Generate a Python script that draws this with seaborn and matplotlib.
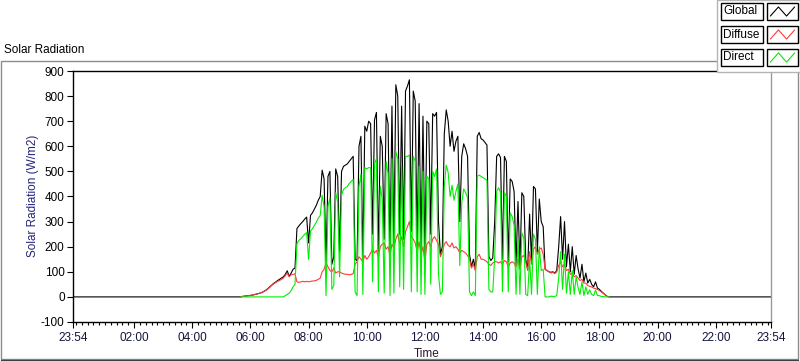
import numpy as np
import pandas as pd
import matplotlib
matplotlib.use("Agg")
import matplotlib.pyplot as plt
import seaborn as sns
from matplotlib.patches import Rectangle
from matplotlib.lines import Line2D
from matplotlib.ticker import FixedLocator, MultipleLocator

# ---------------- data (minutes after midnight, 4-min samples 05:40 .. 18:20) ----
times = np.arange(340, 1101, 4)

global_rad = [
    0, 2, 3, 4, 5,
    6, 7, 9, 11, 13, 15, 18, 22, 27, 33, 40, 47, 54, 59, 65,
    70, 75, 80, 90, 104, 82, 95, 110, 115, 272, 283, 292, 300, 310, 318,
    215, 325, 335, 350, 365, 385, 400, 505, 470, 140, 480, 500, 130, 160, 510,
    480, 180, 500, 520, 525, 530, 540, 550, 560, 150, 145, 600, 640, 150, 680,
    660, 700, 690, 250, 705, 735, 180, 640, 600, 230, 730, 690, 170, 760, 210,
    845, 800, 250, 760, 230, 820, 840, 865, 260, 820, 780, 200, 770, 180, 720,
    150, 700, 690, 250, 730, 720, 735, 300, 170, 200, 650, 745, 700, 600, 660,
    580, 620, 640, 300, 560, 610, 590, 560, 170, 120, 150, 110, 640, 655, 630,
    625, 615, 605, 160, 145, 155, 300, 560, 570, 555, 150, 560, 540, 140, 470,
    460, 420, 130, 380, 120, 415, 400, 150, 110, 330, 140, 440, 430, 180, 390,
    300, 280, 110, 105, 100, 98, 100, 95, 105, 200, 320, 150, 300, 120, 210,
    100, 200, 90, 165, 112, 75, 130, 60, 95, 55, 70, 50, 40, 60, 35,
    30, 22, 15, 8, 2, 0,
]

diffuse_rad = [
    0, 2, 3, 4, 5,
    6, 7, 9, 11, 13, 15, 18, 22, 26, 32, 38, 46, 52, 57, 62,
    65, 70, 75, 85, 95, 80, 88, 90, 92, 60, 58, 60, 62, 60, 62,
    60, 62, 63, 64, 66, 70, 75, 100, 110, 135, 120, 105, 100, 115, 95,
    100, 100, 95, 92, 90, 90, 88, 90, 92, 130, 140, 160, 150, 140, 165,
    150, 160, 175, 190, 175, 185, 160, 200, 210, 215, 190, 200, 165, 210, 195,
    230, 250, 210, 240, 200, 260, 280, 300, 240, 230, 215, 180, 220, 170, 200,
    140, 210, 220, 200, 230, 240, 225, 210, 160, 180, 210, 220, 205, 200, 215,
    195, 200, 190, 175, 185, 180, 175, 165, 150, 115, 130, 105, 160, 170, 150,
    150, 145, 140, 130, 125, 135, 140, 140, 135, 140, 130, 145, 140, 120, 135,
    140, 135, 120, 150, 110, 160, 165, 140, 105, 180, 130, 190, 200, 170, 190,
    195, 170, 110, 105, 100, 95, 98, 93, 100, 125, 140, 120, 130, 105, 110,
    90, 95, 80, 85, 75, 65, 70, 55, 55, 45, 42, 40, 35, 33, 30,
    25, 20, 14, 8, 2, 0,
]

direct_rad = [
    0, 0, 0, 0, 0,
    0, 0, 0, 0, 0, 0, 0, 0, 0, 0, 0, 0, 0, 0, 0,
    0, 0, 0, 5, 10, 15, 25, 40, 50, 212, 225, 232, 240, 250, 256,
    150, 262, 272, 285, 298, 314, 324, 405, 360, 5, 360, 395, 30, 45, 415,
    380, 80, 405, 428, 435, 440, 452, 460, 468, 20, 5, 440, 490, 10, 515,
    510, 515, 515, 60, 530, 550, 20, 440, 390, 15, 540, 490, 5, 550, 15,
    580, 550, 40, 520, 30, 560, 560, 565, 20, 560, 540, 20, 520, 10, 500,
    10, 480, 470, 50, 500, 480, 510, 90, 10, 20, 440, 525, 495, 400, 445,
    385, 420, 450, 125, 375, 430, 415, 395, 20, 5, 20, 5, 480, 485, 480,
    475, 470, 465, 30, 20, 20, 160, 420, 435, 415, 20, 415, 400, 20, 335,
    320, 285, 10, 230, 10, 255, 235, 10, 5, 150, 10, 250, 230, 10, 200,
    105, 110, 0, 0, 0, 3, 2, 2, 5, 75, 180, 30, 170, 15, 100,
    10, 105, 10, 80, 37, 10, 60, 5, 40, 10, 28, 10, 5, 27, 5,
    5, 2, 1, 0, 0, 0,
]

# full-day global trace (flat zero at night)
day_start, day_end = -6, 1434
global_times = np.concatenate([[day_start], times, [day_end]])
global_full = np.concatenate([[0], global_rad, [0]])

tick_pos = [-6, 120, 240, 360, 480, 600, 720, 840, 960, 1080, 1200, 1320, 1434]
tick_labels = ["23:54", "02:00", "04:00", "06:00", "08:00", "10:00", "12:00",
               "14:00", "16:00", "18:00", "20:00", "22:00", "23:54"]
y_ticks = [-100, 0, 100, 200, 300, 400, 500, 600, 700, 800, 900]

series_names = ["Global", "Diffuse", "Direct"]
series_colors = ["#000000", "#ff3a3a", "#00ee00"]

df_g = pd.DataFrame({"t": global_times, "v": global_full})
df_d = pd.DataFrame({"t": times, "v": diffuse_rad})
df_r = pd.DataFrame({"t": times, "v": direct_rad})

# ---------------- figure ----------------
sns.set_theme(style="white")
plt.rcParams["font.family"] = ["Liberation Sans", "DejaVu Sans"]
plt.rcParams["font.size"] = 8.5

W, H = 800, 361
fig = plt.figure(figsize=(W / 100, H / 100), dpi=100)
fig.patch.set_facecolor("white")


def fx(px):
    return px / W


def fy(py):
    return 1 - py / H


# panel frame
fig.add_artist(Rectangle((fx(1), fy(359)), fx(797), (359 - 61) / H,
                         transform=fig.transFigure, fill=False,
                         edgecolor="#8c8c8c", lw=1.0, zorder=0))
fig.add_artist(Line2D([fx(1), fx(798)], [fy(359.5), fy(359.5)],
                      transform=fig.transFigure, color="#404040", lw=1.0))
fig.text(fx(4), fy(50), "Solar Radiation", ha="left", va="center",
         fontsize=8.5, color="#000000")

ax = fig.add_axes([fx(73), fy(322), fx(771) - fx(73), fy(71) - fy(322)])
ax.set_facecolor("white")

sns.lineplot(data=df_g, x="t", y="v", ax=ax, color=series_colors[0], lw=0.8,
             estimator=None, sort=False, zorder=2)
sns.lineplot(data=df_d, x="t", y="v", ax=ax, color=series_colors[1], lw=0.8,
             estimator=None, sort=False, zorder=3)
sns.lineplot(data=df_r, x="t", y="v", ax=ax, color=series_colors[2], lw=0.8,
             estimator=None, sort=False, zorder=4)

ax.set_xlim(day_start, day_end)
ax.set_ylim(-100, 900)
ax.xaxis.set_major_locator(FixedLocator(tick_pos))
ax.set_xticklabels(tick_labels)
ax.xaxis.set_minor_locator(MultipleLocator(12))
ax.yaxis.set_major_locator(FixedLocator(y_ticks))
ax.set_yticklabels([str(v) for v in y_ticks])
ax.set_xlabel("")
ax.set_ylabel("")
ax.grid(False)

for side in ["top", "left", "bottom"]:
    ax.spines[side].set_color("#000000")
    ax.spines[side].set_linewidth(1.0)
ax.spines["right"].set_color("#9a9a9a")
ax.spines["right"].set_linewidth(1.0)

ax.tick_params(axis="x", which="major", direction="out", length=4.5, width=0.8,
               color="#000000", pad=2.5, labelsize=8.5, labelcolor="#14143c",
               bottom=True)
ax.tick_params(axis="x", which="minor", direction="out", length=2.5, width=0.8,
               color="#000000", bottom=True)
ax.tick_params(axis="y", which="major", direction="out", length=4.5, width=0.8,
               color="#000000", pad=1.5, labelsize=8.5, labelcolor="#000000",
               left=True)

fig.text(fx(33), fy(196), "Solar Radiation (W/m2)", rotation=90, ha="center",
         va="center", fontsize=8.5, color="#24247a")
fig.text(fx(427), fy(354), "Time", ha="center", va="center", fontsize=8.5,
         color="#2a1530")

# legend panel
fig.add_artist(Rectangle((fx(717), fy(72)), fx(83), 72 / H,
                         transform=fig.transFigure, facecolor="white",
                         edgecolor="#b4b4b4", lw=1.0, zorder=5))
row_tops = [3, 26, 49]
for name, col, top in zip(series_names, series_colors, row_tops):
    fig.add_artist(Rectangle((fx(721), fy(top + 17)), fx(42), 17 / H,
                             transform=fig.transFigure, facecolor="white",
                             edgecolor="#000000", lw=1.0, zorder=6))
    fig.text(fx(723), fy(top + 8.5), name, ha="left", va="center",
             fontsize=8.5, color="#000000", zorder=7)
    fig.add_artist(Rectangle((fx(767), fy(top + 17)), fx(31), 17 / H,
                             transform=fig.transFigure, facecolor="white",
                             edgecolor="#000000", lw=1.0, zorder=6))
    sw = fig.add_axes([fx(769), fy(top + 15), fx(27), 13 / H], zorder=8)
    sw.set_axis_off()
    sw.plot([0.05, 0.35, 0.65, 0.95], [0.15, 0.85, 0.15, 0.85], color=col,
            lw=0.8)
    sw.set_xlim(0, 1)
    sw.set_ylim(0, 1)

fig.savefig("out.png", dpi=100, facecolor="white")
